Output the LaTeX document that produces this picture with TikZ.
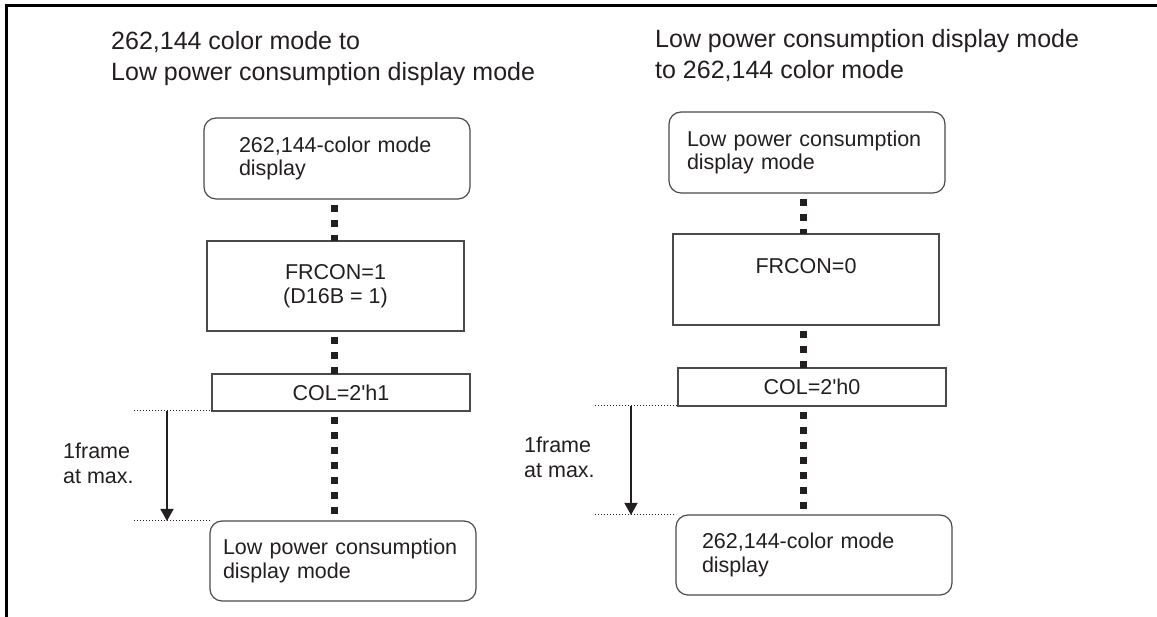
\documentclass[tikz,border=0pt]{standalone}
\usepackage{fontspec}
\setmainfont{Liberation Sans}
\usetikzlibrary{arrows.meta,positioning}
\definecolor{lineGray}{HTML}{4A4A4A}
\definecolor{inkBlack}{HTML}{231F20}

\begin{document}
\begin{tikzpicture}[x=1pt,y=1pt,
  font=\fontsize{21.5}{23.5}\selectfont, text=inkBlack,
  box/.style={draw=lineGray,line width=1.2pt,inner xsep=0pt,inner ysep=2pt,outer sep=0pt,minimum width=266pt},
  rbox/.style={box,rounded corners=12pt,text width=#1,align=left},
  sqbox/.style={box,align=center},
  title/.style={anchor=north west,inner sep=0pt,align=left,font=\fontsize{25}{31}\selectfont},
  note/.style={anchor=north west,inner sep=0pt,align=left,font=\fontsize{21.5}{25}\selectfont},
  link/.style={line width=7pt,inkBlack,dash pattern=on 7pt off 8pt,dash phase=9pt},
  guide/.style={line width=1pt,inkBlack,dash pattern=on 1pt off 2pt},
  arr/.style={-{Triangle[length=12pt,width=13pt]},line width=1.4pt,inkBlack}]
  \useasboundingbox (0,0) rectangle (1157,617);
  \draw[line width=3pt,black] (6,0) -- (6,611) -- (1157,611);

  % left: 262,144 colours -> low power
  \node[title] (ltitle) at (111,586) {262,144 color mode to\\Low power consumption display mode};
  \node[rbox=196pt,minimum height=81pt] (l1) at (337,458.5) {262,144-color mode\\display};
  \node[sqbox,minimum width=257pt,minimum height=90pt,below=42pt of l1,xshift=-1.5pt] (l2) {FRCON=1\\(D16B = 1)};
  \node[sqbox,minimum width=258pt,minimum height=37pt,below=43pt of l2,xshift=5.5pt] (l3) {COL=2\textquotesingle h1};
  \node[rbox=240pt,minimum height=80pt,below=110pt of l3,xshift=2pt] (l4) {Low power consumption\\display mode};
  \coordinate (lx) at (334.5,0);
  \draw[link] (lx |- l1.south) -- (lx |- l2.north);
  \draw[link] (lx |- l2.south) -- (lx |- l3.north);
  \draw[link] (lx |- l3.south) -- (lx |- l4.north);
  \coordinate (lg) at (134,0);
  \coordinate (la) at (167,0);
  \draw[guide] (lg |- l3.south) -- (l3.south west);
  \draw[guide] (lg |- l4.north) -- (l4.north west);
  \draw[arr] (la |- l3.south) -- (la |- l4.north);
  \node[note] (lnote) at (63,174) {1frame\\at max.};

  % right: low power -> 262,144 colours
  \node[title] (rtitle) at (655,588) {Low power consumption display mode\\to 262,144 color mode};
  \node[rbox=240pt,minimum width=276pt,minimum height=81pt] (r1) at (807,464.5) {Low power consumption\\display mode};
  \node[sqbox,minimum height=91pt,below=41pt of r1,xshift=-1pt] (r2) {FRCON=0\\\phantom{(D16B = 0)}};
  \node[sqbox,minimum width=268pt,minimum height=38pt,below=43pt of r2,xshift=6pt] (r3) {COL=2\textquotesingle h0};
  \node[rbox=224pt,minimum width=276pt,minimum height=80pt,below=109pt of r3,xshift=2pt] (r4) {262,144-color mode\\display};
  \coordinate (rx) at (803,0);
  \draw[link] (rx |- r1.south) -- (rx |- r2.north);
  \draw[link] (rx |- r2.south) -- (rx |- r3.north);
  \draw[link] (rx |- r3.south) -- (rx |- r4.north);
  \coordinate (rg) at (595,0);
  \coordinate (ra) at (631,0);
  \draw[guide] (rg |- r3.south) -- (r3.south west);
  \draw[guide] (rg |- r4.north) -- (r4.north west);
  \draw[arr] (ra |- r3.south) -- (ra |- r4.north);
  \node[note] (rnote) at (524,180) {1frame\\at max.};
\end{tikzpicture}
\end{document}
